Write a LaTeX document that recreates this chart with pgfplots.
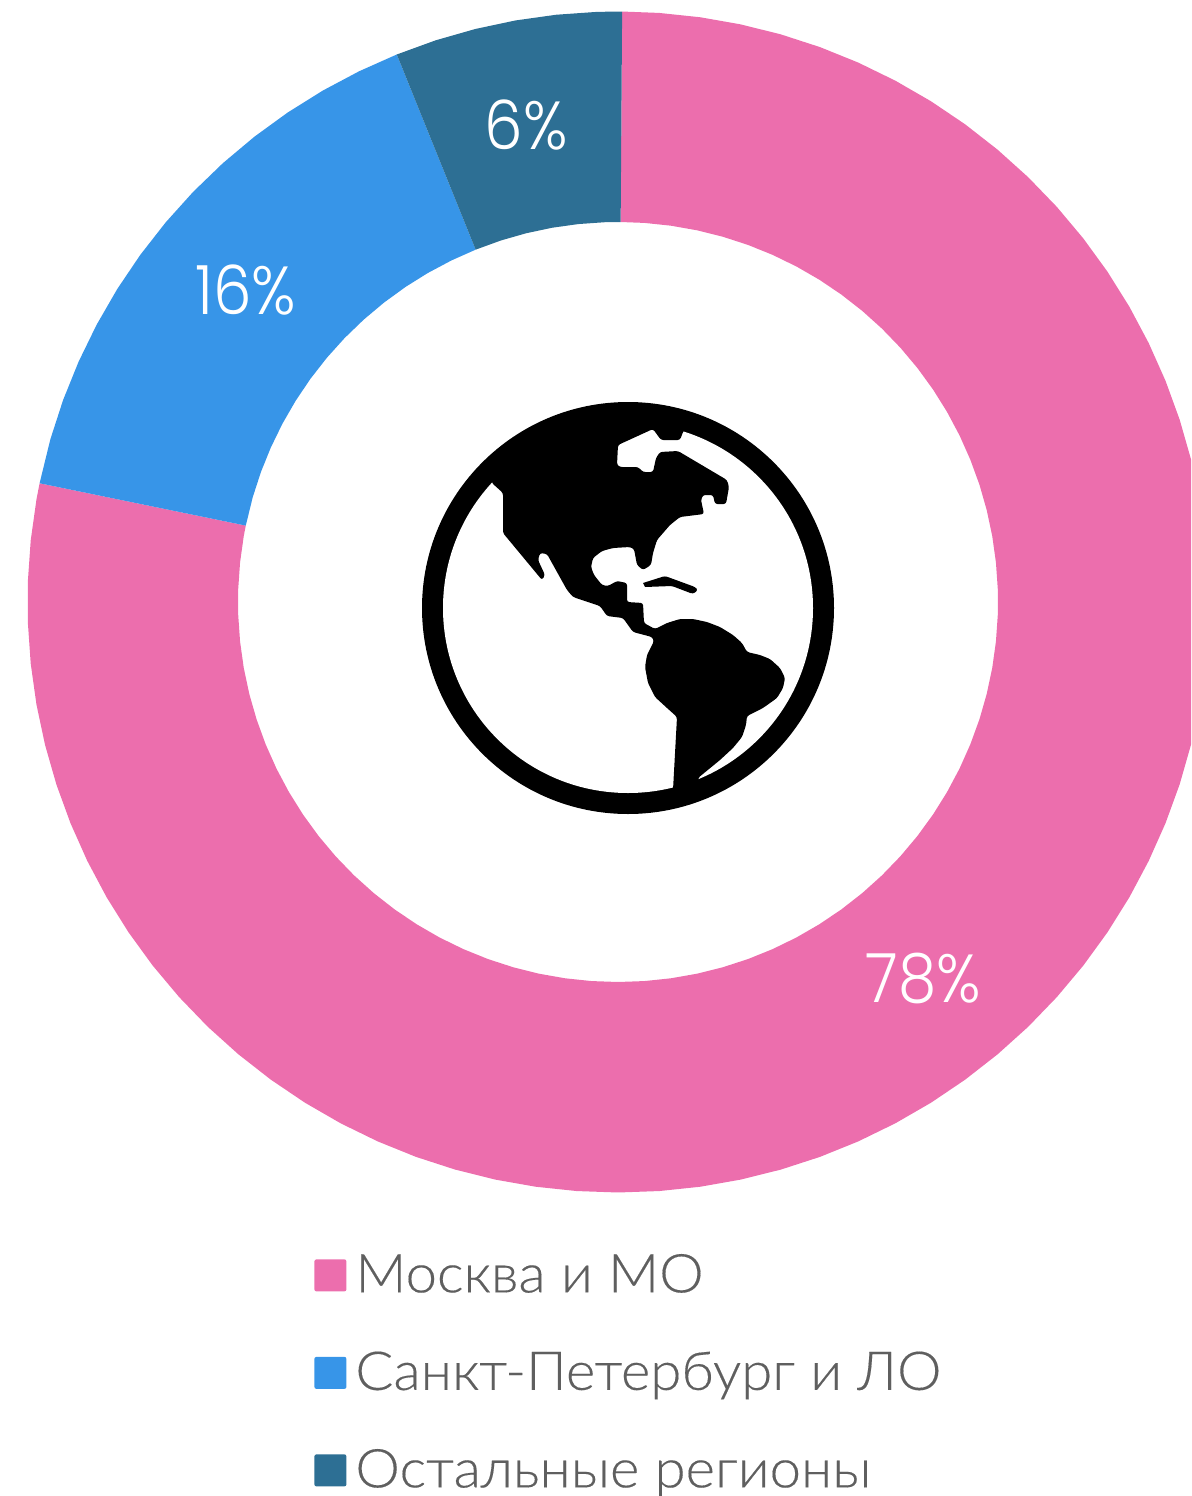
\documentclass[border=0pt]{standalone}
\usepackage{fontspec}
\setmainfont{Lato Light}[FakeStretch=1.05,FakeBold=0.25]
\newfontfamily\pop{Poppins Light}[FakeStretch=0.9]
\usepackage{pgfplots}
\pgfplotsset{compat=1.18}
\definecolor{cpink}{HTML}{EC6EAD}
\definecolor{cblue}{HTML}{3795E8}
\definecolor{cdark}{HTML}{2D6F94}
\definecolor{ctext}{HTML}{5F5F5F}
\begin{document}
\begin{tikzpicture}
\useasboundingbox (0,0) rectangle (595.5pt,748pt);
\begin{axis}[
  name=donut, at={(0,0)}, anchor=south west,
  scale only axis, width=595.5pt, height=748pt,
  xmin=-618, xmax=573, ymin=-894, ymax=602,
  hide axis, clip=true,
  legend style={at={(314/1191,1-1250/1496)},anchor=north west,draw=none,fill=none,inner sep=0pt,
    row sep=21.75pt, font=\fontsize{26.8}{30}\selectfont, text=ctext,
    nodes={text height=21pt,text depth=6pt,inner sep=0pt,anchor=base west}},
  legend cell align=left,
  legend image code/.code={\fill[#1,rounded corners=1pt] (0pt,0.5pt) rectangle (16pt,16.5pt);\path (20.5pt,0pt);},
]
\addplot[data cs=polar,fill=cpink,draw=none] coordinates {
(89.6,590.5)(86,590.5)(82,590.5)(78,590.5)(74,590.5)(70,590.5)(66,590.5)(62,590.5)(58,590.5)(54,590.5)(50,590.5)(46,590.5)(42,590.5)(38,590.5)(34,590.5)(30,590.5)(26,590.5)(22,590.5)(18,590.5)(14,590.5)(10,590.5)(6,590.5)(2,590.5)(-2,590.5)(-6,590.5)(-10,590.5)(-14,590.5)(-18,590.5)(-22,590.5)(-26,590.5)(-30,590.5)(-34,590.5)(-38,590.5)(-42,590.5)(-46,590.5)(-50,590.5)(-54,590.5)(-58,590.5)(-62,590.5)(-66,590.5)(-70,590.5)(-74,590.5)(-78,590.5)(-82,590.5)(-86,590.5)(-90,590.5)(-94,590.5)(-98,590.5)(-102,590.5)(-106,590.5)(-110,590.5)(-114,590.5)(-118,590.5)(-122,590.5)(-126,590.5)(-130,590.5)(-134,590.5)(-138,590.5)(-142,590.5)(-146,590.5)(-150,590.5)(-154,590.5)(-158,590.5)(-162,590.5)(-166,590.5)(-170,590.5)(-174,590.5)(-178,590.5)(-182,590.5)(-186,590.5)(-190,590.5)(-191.6,590.5)
(-191.6,380)(-190,380)(-186,380)(-182,380)(-178,380)(-174,380)(-170,380)(-166,380)(-162,380)(-158,380)(-154,380)(-150,380)(-146,380)(-142,380)(-138,380)(-134,380)(-130,380)(-126,380)(-122,380)(-118,380)(-114,380)(-110,380)(-106,380)(-102,380)(-98,380)(-94,380)(-90,380)(-86,380)(-82,380)(-78,380)(-74,380)(-70,380)(-66,380)(-62,380)(-58,380)(-54,380)(-50,380)(-46,380)(-42,380)(-38,380)(-34,380)(-30,380)(-26,380)(-22,380)(-18,380)(-14,380)(-10,380)(-6,380)(-2,380)(2,380)(6,380)(10,380)(14,380)(18,380)(22,380)(26,380)(30,380)(34,380)(38,380)(42,380)(46,380)(50,380)(54,380)(58,380)(62,380)(66,380)(70,380)(74,380)(78,380)(82,380)(86,380)(89.6,380)
};
\addlegendentry{Москва и МО}
\addplot[data cs=polar,fill=cblue,draw=none] coordinates {
(168.4,590.5)(164,590.5)(160,590.5)(156,590.5)(152,590.5)(148,590.5)(144,590.5)(140,590.5)(136,590.5)(132,590.5)(128,590.5)(124,590.5)(120,590.5)(116,590.5)(112,590.5)
(112,380)(116,380)(120,380)(124,380)(128,380)(132,380)(136,380)(140,380)(144,380)(148,380)(152,380)(156,380)(160,380)(164,380)(168.4,380)
};
\addlegendentry{Санкт-Петербург и ЛО}
\addplot[data cs=polar,fill=cdark,draw=none] coordinates {
(112,590.5)(108,590.5)(104,590.5)(100,590.5)(96,590.5)(92,590.5)(89.6,590.5)
(89.6,380)(92,380)(96,380)(100,380)(104,380)(108,380)(112,380)
};
\addlegendentry{Остальные регионы}
\node[text=white,font=\pop\fontsize{34}{40}\selectfont] at (axis cs:305,-376) {78\%};
\node[text=white,font=\pop\fontsize{34}{40}\selectfont] at (axis cs:-372,312) {16\%};
\node[text=white,font=\pop\fontsize{34}{40}\selectfont] at (axis cs:-92,477) {6\%};
\end{axis}
\begin{axis}[
  at={(0,0)}, anchor=south west,
  scale only axis, width=595.5pt, height=748pt,
  xmin=0, xmax=1191, ymin=0, ymax=1496, y dir=reverse,
  hide axis, clip=true,
]
\fill[black] (axis cs:628,608) circle [radius=206];
\fill[white] (axis cs:628,608) circle [radius=185];
\addplot[fill=black,draw=none,rounded corners=1.2pt,forget plot] coordinates {
(493,484)(503,493)(503,533)(542,580)(545,575)(538,560)(540,553)(547,554)(567,590)(573,597)(600,606)(607,616)(623,618)(633,632)(652,637)(654,641)(653,643)(647,655)(645,667)(648,683)(655,697)(667,708)(677,717)(673,790)(700,785)(698,778)(720,760)(733,748)(742,737)(746,725)(747,716)(763,708)(777,698)(783,688)(785,678)(780,668)(770,659)(760,655)(747,652)(742,643)(733,635)(720,627)(707,622)(693,619)(680,619)(667,623)(655,629)(644,623)(643,603)(627,602)(627,583)(617,581)(608,586)(602,585)(594,575)(591,567)(593,558)(602,551)(613,548)(630,547)(634,549)(637,565)(643,570)(651,565)(653,553)(657,540)(670,525)(680,517)(704,514)(701,500)(703,495)(713,495)(715,504)(726,504)(729,487)(727,480)(678,451)(660,452)(656,458)(653,472)(643,472)(638,467)(620,467)(617,465)(618,445)(653,429)(661,440)(680,440)(683,432)(690,420)(650,415)(560,425)(490,478)
};
\addplot[fill=black,draw=none,rounded corners=1.2pt,forget plot] coordinates {
(643,583)(665,576)(695,587)(698,590)(693,594)(672,586)(645,587)
};
\end{axis}
\end{tikzpicture}
\end{document}
